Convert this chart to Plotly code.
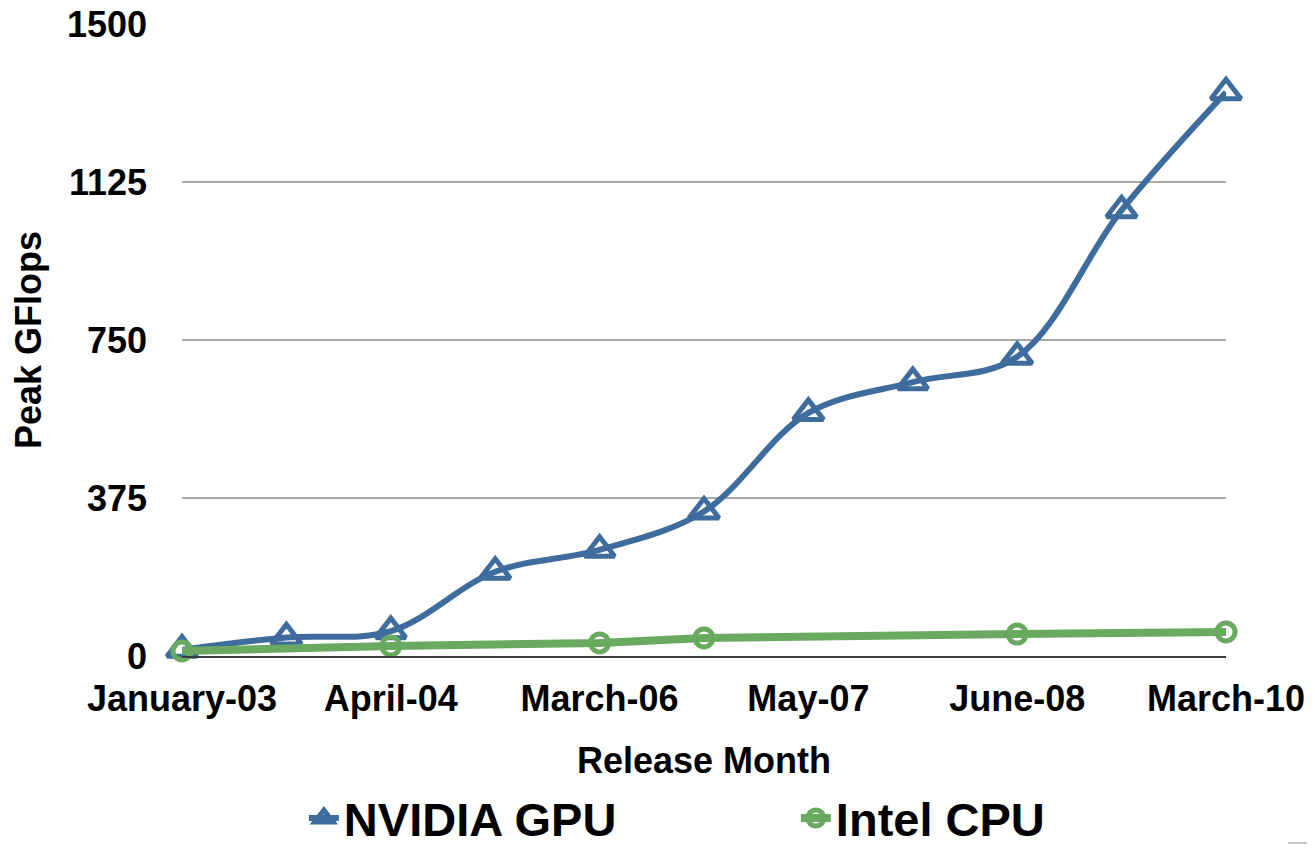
import plotly.graph_objects as go

# ---- data ----
release_index = list(range(11))
tick_positions = [0, 2, 4, 6, 8, 10]
tick_labels = ["January-03", "April-04", "March-06", "May-07", "June-08", "March-10"]

gpu_gflops = [15, 44, 59, 200, 252, 343, 577, 650, 710, 1058, 1338]
cpu_gflops = [12, None, 24, None, 31, 43, None, None, 52, None, 57]

y_ticks = [0, 375, 750, 1125, 1500]

BLUE = "#3e6d9d"
GREEN = "#6aa960"
FONT = "Liberation Sans"

fig = go.Figure()
fig.add_trace(go.Scatter(
    x=release_index, y=gpu_gflops, name="NVIDIA GPU",
    mode="lines+markers",
    line=dict(color=BLUE, width=6, shape="spline", smoothing=1.0),
    marker=dict(symbol="triangle-up-open", size=26, color=BLUE, line=dict(width=5, color=BLUE)),
    cliponaxis=False,
))
fig.add_trace(go.Scatter(
    x=release_index, y=cpu_gflops, name="Intel CPU",
    mode="lines+markers", connectgaps=True,
    line=dict(color=GREEN, width=8),
    marker=dict(symbol="circle-open", size=18, color=GREEN, line=dict(width=5, color=GREEN)),
    cliponaxis=False,
))

fig.update_layout(
    width=1315, height=850,
    margin=dict(l=174, r=97, t=16, b=202, autoexpand=False),
    paper_bgcolor="white", plot_bgcolor="white",
    font=dict(family=FONT, color="black", size=36, weight="bold"),
    showlegend=True,
    legend=dict(orientation="h", x=0.588, xanchor="center", y=-0.257, yanchor="middle",
                font=dict(size=47, family=FONT, weight="bold"),
                entrywidth=447, entrywidthmode="pixels"),
    xaxis=dict(
        range=[0, 10], tickmode="array", tickvals=tick_positions, ticktext=tick_labels,
        showgrid=False, zeroline=False, showline=True, linecolor="#3a3a3a", linewidth=2,
        ticks="", ticklabelstandoff=10, automargin=False, ticklabeloverflow="allow",
        tickfont=dict(size=36, family=FONT, weight="bold"),
        title=dict(text="Release Month", standoff=30,
                   font=dict(size=36, family=FONT, weight="bold")),
    ),
    yaxis=dict(
        range=[0, 1500], tickmode="array", tickvals=y_ticks,
        showgrid=True, gridcolor="#a8a8a8", gridwidth=2, zeroline=False, showline=False,
        ticks="", ticklabelstandoff=34, automargin=False, ticklabeloverflow="allow",
        tickfont=dict(size=36, family=FONT, weight="bold"),
        title=dict(text="Peak GFlops", standoff=14,
                   font=dict(size=36, family=FONT, weight="bold")),
    ),
)

fig.add_shape(type="line", xref="paper", yref="paper",
              x0=(1153 - 174) / 1044, x1=(1315 - 174) / 1044,
              y0=(648 - 835) / 632, y1=(648 - 835) / 632,
              line=dict(color="#c8c8c8", width=2))

fig.write_html("out.html")
